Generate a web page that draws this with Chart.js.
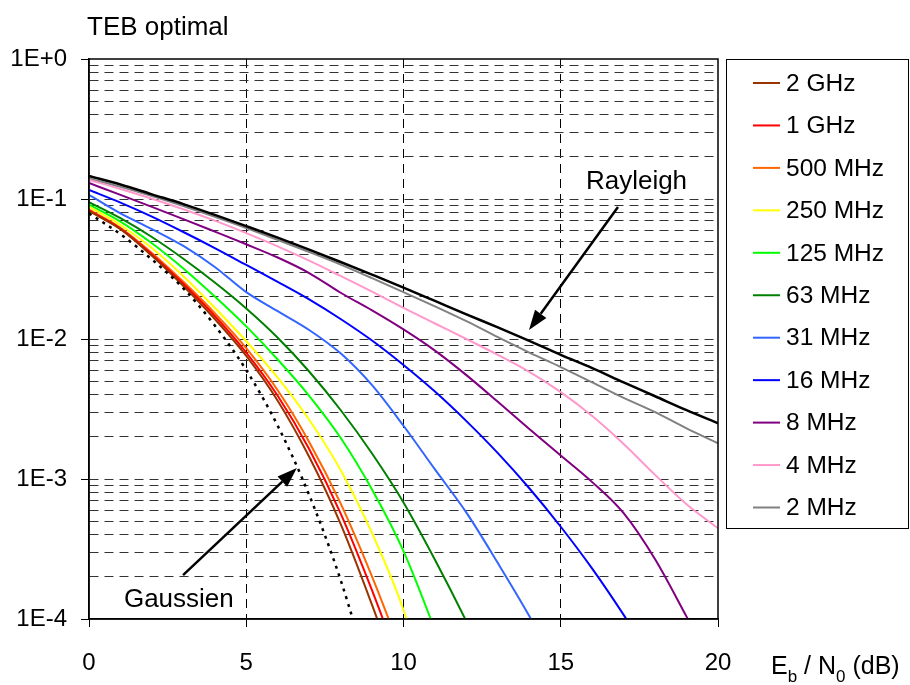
<!DOCTYPE html>
<html>
<head>
<meta charset="utf-8">
<script src="https://cdn.jsdelivr.net/npm/chart.js@4.4.1/dist/chart.umd.min.js"></script>
<style>
  html, body { margin: 0; padding: 0; background: #fff; }
</style>
</head>
<body>
<canvas id="myChart" width="910" height="685"></canvas>
<script>
// Eb/N0 en dB
const snr = [0, 1, 2, 3, 4, 5, 6, 7, 8, 9, 10, 11, 12, 13, 14, 15, 16, 17, 18, 19, 20];

const seriesNames = ["2 GHz", "1 GHz", "500 MHz", "250 MHz", "125 MHz", "63 MHz", "31 MHz", "16 MHz", "8 MHz", "4 MHz", "2 MHz"];
const seriesColors = ["#993300", "#ff0000", "#ff6600", "#ffff00", "#00ff00", "#008000", "#3366ff", "#0000ff", "#800080", "#ff99cc", "#808080"];

// TEB
const ber2GHz = [0.082, 0.0608, 0.0393, 0.0239, 0.0139, 0.00757, 0.00362, 0.00144, 0.000478, 0.000126, 0.00003];
const ber1GHz = [0.083, 0.0615, 0.0402, 0.0248, 0.0146, 0.0080, 0.00393, 0.00164, 0.000568, 0.00016, 0.00004];
const ber500MHz = [0.084, 0.0622, 0.0411, 0.0256, 0.0153, 0.0086, 0.0043, 0.00184, 0.00067, 0.000201, 0.000053];
const ber250MHz = [0.0879, 0.0652, 0.0446, 0.0281, 0.0167, 0.00964, 0.0053, 0.00265, 0.00116, 0.00041, 0.000116, 0.00002];
const ber125MHz = [0.091, 0.069, 0.0483, 0.0319, 0.0201, 0.0123, 0.00714, 0.00393, 0.00197, 0.00084, 0.000305, 0.000083, 0.00002];
const ber63MHz = [0.095, 0.0729, 0.0535, 0.0374, 0.0253, 0.0165, 0.0102, 0.00586, 0.00311, 0.00152, 0.00068, 0.000265, 0.000096, 0.000032];
const ber31MHz = [0.107, 0.079, 0.061, 0.0462, 0.0327, 0.0216, 0.0158, 0.0116, 0.0079, 0.00468, 0.0024, 0.00117, 0.000575, 0.000251, 0.000105, 0.00004];
const ber16MHz = [0.116, 0.0942, 0.0748, 0.0581, 0.0446, 0.0338, 0.0256, 0.0192, 0.0139, 0.00975, 0.00652, 0.00421, 0.00259, 0.00153, 0.000859, 0.000456, 0.000229, 0.000107, 0.000047];
const ber8MHz = [0.130, 0.107, 0.0879, 0.0719, 0.0585, 0.0475, 0.0382, 0.0296, 0.0214, 0.0160, 0.0117, 0.00826, 0.00552, 0.00356, 0.00228, 0.00147, 0.00095, 0.00057, 0.000267, 0.000104, 0.00004];
const ber4MHz = [0.137, 0.118, 0.1005, 0.0845, 0.070, 0.0571, 0.0459, 0.0363, 0.0282, 0.0218, 0.0167, 0.0129, 0.0100, 0.0077, 0.00582, 0.00417, 0.00282, 0.00178, 0.00107, 0.00066, 0.000445];
const ber2MHz = [0.140, 0.122, 0.105, 0.089, 0.0745, 0.062, 0.051, 0.0418, 0.034, 0.0272, 0.0216, 0.0171, 0.0134, 0.0103, 0.0080, 0.0063, 0.0049, 0.0038, 0.0030, 0.0023, 0.0018];
const berRayleigh = [0.146, 0.127, 0.108, 0.092, 0.077, 0.064, 0.053, 0.0435, 0.0355, 0.0288, 0.0233, 0.0187, 0.0150, 0.0121, 0.0097, 0.0077, 0.0062, 0.0049, 0.0039, 0.0031, 0.0025];
const berGauss = [0.079, 0.056, 0.037, 0.023, 0.0125, 0.006, 0.0024, 0.00077, 0.00019, 0.000034];

const allSeries = [ber2GHz, ber1GHz, ber500MHz, ber250MHz, ber125MHz, ber63MHz, ber31MHz, ber16MHz, ber8MHz, ber4MHz, ber2MHz];

const xTicks = [0, 5, 10, 15, 20];
const yDecades = [1e-4, 1e-3, 1e-2, 1e-1, 1];
const yTickLabels = ["1E-4", "1E-3", "1E-2", "1E-1", "1E+0"];

const chartTitle = "TEB optimal";
const xTitle = [["E", 0], ["b", 1], [" / N", 0], ["0", 1], [" (dB)", 0]];
// annotations : texte, debut de fleche, pointe (coordonnees donnees)
const noteRayleigh = { text: "Rayleigh", tx: 15.8, ty: 0.118, x1: 16.82, y1: 0.0877, x2: 13.99, y2: 0.0116 };
const noteGauss = { text: "Gaussien", tx: 1.11, ty: 1.22e-4, x1: 2.99, y1: 2.06e-4, x2: 6.61, y2: 1.2e-3 };

const FONT = "'Liberation Sans', Arial, sans-serif";
Chart.defaults.font.family = FONT;
Chart.defaults.color = "#000";

function toPoints(arr) {
  return arr.map((v, i) => ({ x: snr[i], y: v }));
}

// grille : 1..9 par decade
const yGrid = [];
for (let d = 0; d < yDecades.length - 1; d++) {
  for (let m = 1; m < 10; m++) {
    yGrid.push(m === 1 ? yDecades[d] : parseFloat((m * yDecades[d]).toPrecision(3)));
  }
}
yGrid.push(yDecades[yDecades.length - 1]);

const datasets = [];
datasets.push({
  label: "Rayleigh",
  data: toPoints(berRayleigh),
  borderColor: "#000",
  borderWidth: 2.5,
  pointRadius: 0,
  cubicInterpolationMode: "monotone",
});
datasets.push({
  label: "Gaussien",
  data: toPoints(berGauss),
  borderColor: "#000",
  borderWidth: 2.5,
  borderDash: [3, 5],
  pointRadius: 0,
  cubicInterpolationMode: "monotone",
});
allSeries.forEach((arr, i) => {
  datasets.push({
    label: seriesNames[i],
    data: toPoints(arr),
    borderColor: seriesColors[i],
    borderWidth: 2,
    pointRadius: 0,
    cubicInterpolationMode: "monotone",
  });
});

function arrow(ctx, x1, y1, x2, y2) {
  const ang = Math.atan2(y2 - y1, x2 - x1);
  const len = 20, half = 7;
  const bx = x2 - len * Math.cos(ang);
  const by = y2 - len * Math.sin(ang);
  ctx.lineWidth = 2.5;
  ctx.beginPath();
  ctx.moveTo(x1, y1);
  ctx.lineTo(bx, by);
  ctx.stroke();
  ctx.beginPath();
  ctx.moveTo(x2, y2);
  ctx.lineTo(bx + half * Math.sin(ang), by - half * Math.cos(ang));
  ctx.lineTo(bx - half * Math.sin(ang), by + half * Math.cos(ang));
  ctx.closePath();
  ctx.fill();
}

const overlay = {
  id: "overlay",
  afterDraw(chart) {
    const ctx = chart.ctx;
    const area = chart.chartArea;
    const xs = chart.scales.x;
    const ys = chart.scales.y;
    ctx.save();
    ctx.fillStyle = "#000";
    ctx.strokeStyle = "#000";

    // cadre
    ctx.lineWidth = 1.5;
    ctx.strokeRect(area.left, area.top, area.right - area.left, area.bottom - area.top);

    // titre
    ctx.font = "26px " + FONT;
    ctx.textAlign = "left";
    ctx.textBaseline = "alphabetic";
    ctx.fillText(chartTitle, area.left - 2, area.top - 24);

    // annotations
    [noteRayleigh, noteGauss].forEach((n) => {
      ctx.font = "26px " + FONT;
      ctx.fillText(n.text, xs.getPixelForValue(n.tx), ys.getPixelForValue(n.ty));
      arrow(ctx, xs.getPixelForValue(n.x1), ys.getPixelForValue(n.y1), xs.getPixelForValue(n.x2), ys.getPixelForValue(n.y2));
    });

    // titre axe x avec indices
    let tx = area.right + 53;
    const ty = area.bottom + 55;
    xTitle.forEach(([t, sub]) => {
      ctx.font = (sub ? "17px " : "25px ") + FONT;
      ctx.fillText(t, tx, ty + (sub ? 8 : 0));
      tx += ctx.measureText(t).width;
    });

    // legende
    const lx = area.right + 8;
    const lw = chart.width - lx - 2;
    const lh = 469;
    ctx.lineWidth = 1;
    ctx.strokeRect(lx + 0.5, area.top + 0.5, lw, lh);
    ctx.font = "24.5px " + FONT;
    ctx.textBaseline = "middle";
    seriesNames.forEach((name, i) => {
      const y = area.top + 24 + i * 42.45;
      ctx.strokeStyle = seriesColors[i];
      ctx.lineWidth = 2;
      ctx.beginPath();
      ctx.moveTo(lx + 27, y);
      ctx.lineTo(lx + 54, y);
      ctx.stroke();
      ctx.fillText(name, lx + 60, y + 1);
    });
    ctx.restore();
  },
};

const chart = new Chart(document.getElementById("myChart"), {
  type: "line",
  data: { datasets: datasets },
  options: {
    responsive: false,
    animation: false,
    devicePixelRatio: 1,
    layout: { padding: { top: 59, right: 192, left: 0, bottom: 0 } },
    plugins: { legend: { display: false }, tooltip: { enabled: false } },
    scales: {
      x: {
        type: "linear",
        min: 0,
        max: 20,
        afterFit: (scale) => { scale.height = 66; },
        afterBuildTicks: (scale) => { scale.ticks = xTicks.map((v) => ({ value: v })); },
        ticks: { font: { size: 24 }, padding: 22, maxRotation: 0, autoSkip: false },
        grid: {
          color: (c) => (c.tick && (c.tick.value === 0 || c.tick.value === 20) ? "rgba(0,0,0,0)" : "#000"),
          lineWidth: 1,
          tickColor: "#000",
          tickLength: 8,
        },
        border: { color: "#000", width: 1.5, dash: [9, 6] },
      },
      y: {
        type: "logarithmic",
        min: 1e-4,
        max: 1,
        afterFit: (scale) => { scale.width = 89; },
        afterBuildTicks: (scale) => { scale.ticks = yGrid.map((v) => ({ value: v })); },
        ticks: {
          font: { size: 24 },
          padding: 14,
          autoSkip: false,
          callback: (v) => {
            const k = yDecades.indexOf(v);
            return k >= 0 ? yTickLabels[k] : "";
          },
        },
        grid: {
          color: (c) => (c.tick && (c.tick.value === 1 || c.tick.value === 1e-4) ? "rgba(0,0,0,0)" : "#333"),
          lineWidth: 1,
          tickColor: (c) => (c.tick && yDecades.indexOf(c.tick.value) >= 0 ? "#000" : "rgba(0,0,0,0)"),
          tickLength: 8,
        },
        border: { color: "#000", width: 1.5, dash: [9, 6] },
      },
    },
  },
  plugins: [overlay],
});
</script>
</body>
</html>
